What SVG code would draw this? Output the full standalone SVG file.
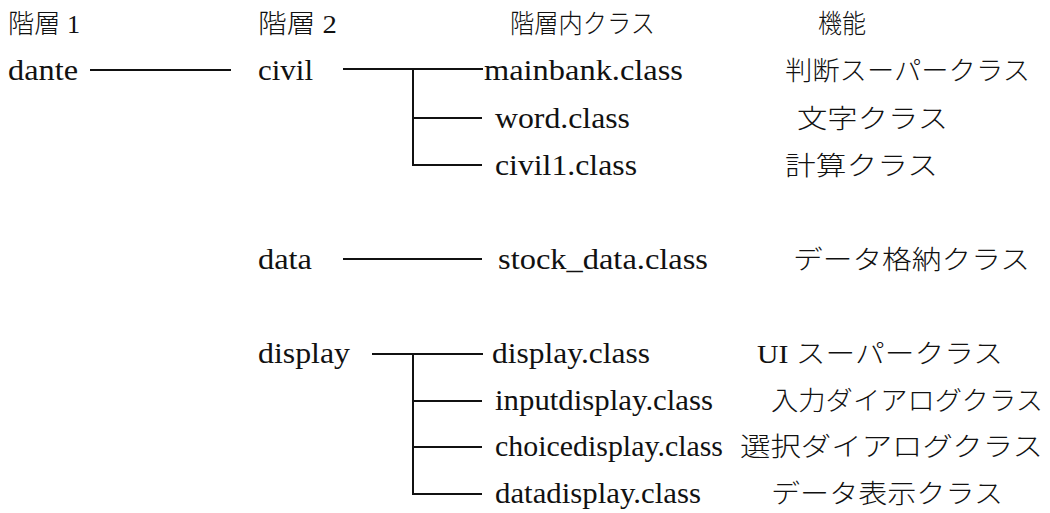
<svg xmlns="http://www.w3.org/2000/svg" width="1050" height="513" viewBox="0 0 1050 513">
  <style>
    text { font-family: "Liberation Serif", "Noto Sans CJK JP", serif; fill: #111; }
    .lat { font-size: 30px; }
    .jp { font-size: 26px; font-family: "Noto Sans CJK JP", "Liberation Serif", sans-serif; font-weight: 300; }
    .hd { font-size: 26px; font-weight: 300; }
    .conn { fill: none; stroke: #111; stroke-width: 2; }
  </style>
  <rect width="1050" height="513" fill="#fff"/>

  <!-- column headings -->
  <g id="headings">
    <text class="hd" x="8" y="33" textLength="72" lengthAdjust="spacingAndGlyphs">階層 1</text>
    <text class="hd" x="258" y="33" textLength="79" lengthAdjust="spacingAndGlyphs">階層 2</text>
    <text class="jp" x="510" y="33" textLength="145" lengthAdjust="spacingAndGlyphs">階層内クラス</text>
    <text class="jp" x="818" y="33" textLength="48" lengthAdjust="spacingAndGlyphs">機能</text>
  </g>

  <!-- connectors -->
  <g id="connectors">
    <path class="conn" d="M90 70 H231"/>
    <path class="conn" d="M343 69 H483 M413 69 V165 H482 M413 118 H482"/>
    <path class="conn" d="M343 259 H482"/>
    <path class="conn" d="M372 354 H483 M413 354 V494 H482 M413 401 H482 M413 447 H482"/>
  </g>

  <!-- level 1 -->
  <g id="node-dante">
    <text class="lat" x="8" y="80" textLength="70" lengthAdjust="spacingAndGlyphs">dante</text>
  </g>

  <!-- level 2 packages -->
  <g id="node-civil">
    <text class="lat" x="258" y="80" textLength="55" lengthAdjust="spacingAndGlyphs">civil</text>
  </g>
  <g id="node-data">
    <text class="lat" x="258" y="269" textLength="54" lengthAdjust="spacingAndGlyphs">data</text>
  </g>
  <g id="node-display">
    <text class="lat" x="258" y="363" textLength="92" lengthAdjust="spacingAndGlyphs">display</text>
  </g>

  <!-- classes and their roles -->
  <g id="node-mainbank">
    <text class="lat" x="484" y="80" textLength="199" lengthAdjust="spacingAndGlyphs">mainbank.class</text>
    <text class="jp" x="785" y="80" textLength="245" lengthAdjust="spacingAndGlyphs">判断スーパークラス</text>
  </g>
  <g id="node-word">
    <text class="lat" x="495" y="128" textLength="135" lengthAdjust="spacingAndGlyphs">word.class</text>
    <text class="jp" x="797" y="128" textLength="151" lengthAdjust="spacingAndGlyphs">文字クラス</text>
  </g>
  <g id="node-civil1">
    <text class="lat" x="495" y="175" textLength="142" lengthAdjust="spacingAndGlyphs">civil1.class</text>
    <text class="jp" x="785" y="175" textLength="153" lengthAdjust="spacingAndGlyphs">計算クラス</text>
  </g>
  <g id="node-stock_data">
    <text class="lat" x="498" y="269" textLength="210" lengthAdjust="spacingAndGlyphs">stock_data.class</text>
    <text class="jp" x="793" y="269" textLength="237" lengthAdjust="spacingAndGlyphs">データ格納クラス</text>
  </g>
  <g id="node-display-class">
    <text class="lat" x="492" y="363" textLength="158" lengthAdjust="spacingAndGlyphs">display.class</text>
    <text class="hd" x="757" y="363" textLength="246" lengthAdjust="spacingAndGlyphs">UI スーパークラス</text>
  </g>
  <g id="node-inputdisplay">
    <text class="lat" x="495" y="410" textLength="218" lengthAdjust="spacingAndGlyphs">inputdisplay.class</text>
    <text class="jp" x="771" y="410" textLength="272" lengthAdjust="spacingAndGlyphs">入力ダイアログクラス</text>
  </g>
  <g id="node-choicedisplay">
    <text class="lat" x="495" y="456" textLength="228" lengthAdjust="spacingAndGlyphs">choicedisplay.class</text>
    <text class="jp" x="740" y="456" textLength="303" lengthAdjust="spacingAndGlyphs">選択ダイアログクラス</text>
  </g>
  <g id="node-datadisplay">
    <text class="lat" x="495" y="503" textLength="206" lengthAdjust="spacingAndGlyphs">datadisplay.class</text>
    <text class="jp" x="771" y="503" textLength="232" lengthAdjust="spacingAndGlyphs">データ表示クラス</text>
  </g>
</svg>
